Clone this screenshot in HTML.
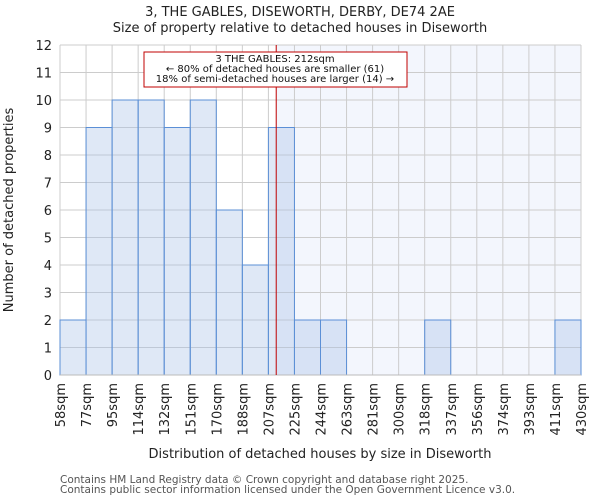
<!DOCTYPE html>
<html><head><meta charset="utf-8"><style>body{margin:0;background:#fff}svg{display:block;font-family:"DejaVu Sans","Liberation Sans",sans-serif}</style></head>
<body>
<svg id="c" width="600" height="500" viewBox="0 0 600 500"></svg>
<script>
const categories=["58sqm","77sqm","95sqm","114sqm","132sqm","151sqm","170sqm","188sqm","207sqm","225sqm","244sqm","263sqm","281sqm","300sqm","318sqm","337sqm","356sqm","374sqm","393sqm","411sqm","430sqm"];
const counts=[2,9,10,10,9,10,6,4,9,2,2,0,0,0,2,0,0,0,0,2];
const yTicks=[0,1,2,3,4,5,6,7,8,9,10,11,12];
const propertyBin=8.3;
const NS="http://www.w3.org/2000/svg";
const svg=document.getElementById('c');
const X0=60,X1=581,Y0=375,Y1=45;
const bw=(X1-X0)/counts.length;
const xs=i=>X0+i*bw;
const ys=v=>Y0-(v/12)*(Y0-Y1);
function el(t,a,p){const e=document.createElementNS(NS,t);for(const k in a)e.setAttribute(k,a[k]);(p||svg).appendChild(e);return e;}
function txt(s,a){const e=el('text',a);e.textContent=s;return e;}
const px=xs(propertyBin);
let sh=el('rect',{x:px,y:Y1,width:X1-px,height:Y0-Y1,fill:'#f3f6fd'});

for(let i=0;i<=counts.length;i++){let g=el('line',{x1:xs(i),x2:xs(i),y1:Y1,y2:Y0,stroke:'#cccccc'});}
yTicks.forEach(t=>{let g=el('line',{x1:X0,x2:X1,y1:ys(t),y2:ys(t),stroke:'#cccccc'});
let l=txt(String(t),{x:X0-8,y:ys(t)+5,'text-anchor':'end','font-size':13,fill:'#222'});});
counts.forEach((v,i)=>{if(!v)return;let b=el('rect',{x:xs(i),y:ys(v),width:bw,height:Y0-ys(v),fill:'rgba(170,195,232,0.38)',stroke:'#5b8fd6','stroke-width':1});});
let ax=el('line',{x1:X0,x2:X1,y1:Y0,y2:Y0,stroke:'#bbb'});
categories.forEach((c,i)=>{const x=xs(i);let l=txt(c,{x:0,y:0,'text-anchor':'end','font-size':13,fill:'#222',transform:`translate(${x+5},383) rotate(-90)`});});
let pl=el('line',{x1:px,x2:px,y1:Y1,y2:Y0,stroke:'#c00000','stroke-width':1});
let bx=el('rect',{x:144,y:52,width:263,height:35,fill:'#fff',stroke:'#c00000'});
[["3 THE GABLES: 212sqm",62],["← 80% of detached houses are smaller (61)",72],["18% of semi-detached houses are larger (14) →",82]].forEach(([s,y])=>{let t=txt(s,{x:275,y:y,'text-anchor':'middle','font-size':10,fill:'#111'});});
let t1=txt("3, THE GABLES, DISEWORTH, DERBY, DE74 2AE",{x:300,y:16,'text-anchor':'middle','font-size':13,fill:'#222'});
let t2=txt("Size of property relative to detached houses in Diseworth",{x:300,y:32,'text-anchor':'middle','font-size':13,fill:'#222'});
let xt=txt("Distribution of detached houses by size in Diseworth",{x:320,y:458,'text-anchor':'middle','font-size':13,fill:'#222'});
let yt=txt("Number of detached properties",{x:0,y:0,'text-anchor':'middle','font-size':13,fill:'#222',transform:'translate(13,210) rotate(-90)'});
let f1=txt("Contains HM Land Registry data © Crown copyright and database right 2025.",{x:60,y:483,'font-size':10.5,fill:'#555'});
let f2=txt("Contains public sector information licensed under the Open Government Licence v3.0.",{x:60,y:493,'font-size':10.5,fill:'#555'});
</script>
</body></html>
